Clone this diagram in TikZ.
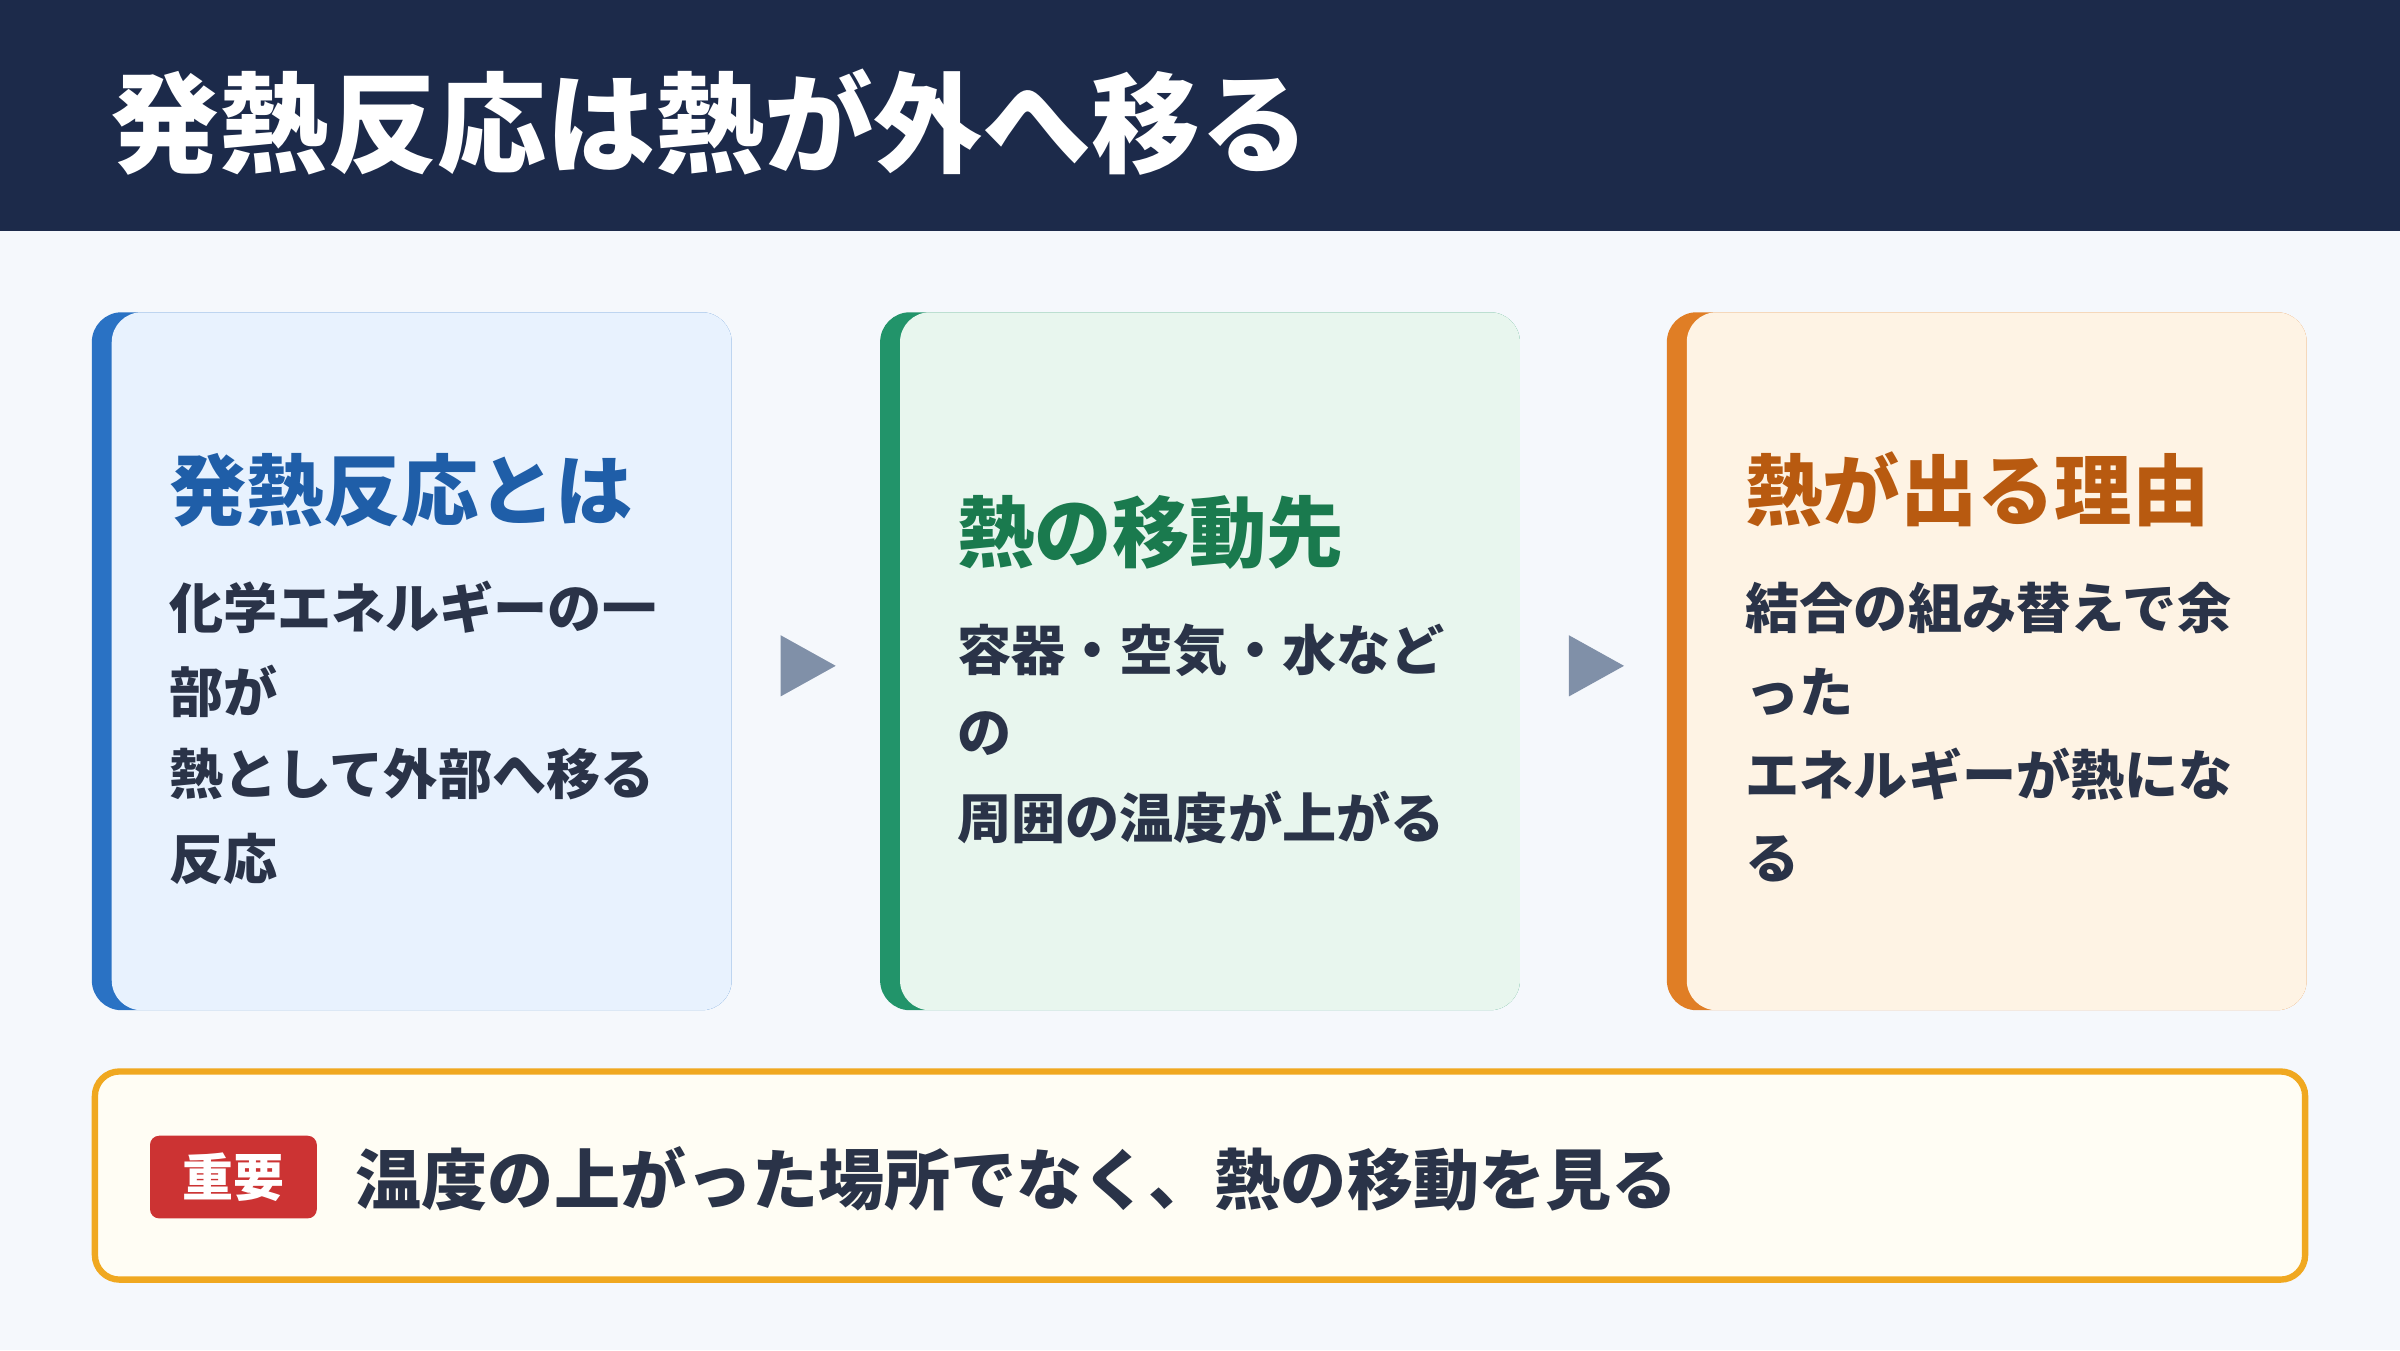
\documentclass[tikz,border=0pt]{standalone}
\usepackage{fontspec}
\newfontfamily\cjk{Noto Sans CJK JP}
\usetikzlibrary{positioning}
\definecolor{navy}{HTML}{1C2A4A}
\definecolor{pagebg}{HTML}{F5F8FC}
\definecolor{ink}{HTML}{2A3348}
\definecolor{blueBar}{HTML}{2A72C4}
\definecolor{blueFill}{HTML}{E8F2FE}
\definecolor{blueHead}{HTML}{1F5EA8}
\definecolor{greenBar}{HTML}{22946A}
\definecolor{greenFill}{HTML}{E8F6EE}
\definecolor{greenHead}{HTML}{1A7A4E}
\definecolor{orangeBar}{HTML}{E07E25}
\definecolor{orangeFill}{HTML}{FEF3E4}
\definecolor{orangeHead}{HTML}{B85A10}
\definecolor{arrowGray}{HTML}{8090A8}
\definecolor{noteFill}{HTML}{FFFDF4}
\definecolor{noteLine}{HTML}{F0A820}
\definecolor{badgeRed}{HTML}{CC3333}
\tikzset{
  head/.style={anchor=west,inner sep=0pt,font=\cjk\bfseries\fontsize{22}{26}\selectfont},
  body/.style={anchor=west,inner sep=0pt,text=ink,font=\cjk\bfseries\fontsize{15.4}{18}\selectfont},
  card/.style={rounded corners=8.5pt},
}
\begin{document}
\begin{tikzpicture}[x=0.0153061cm,y=-0.0153061cm]
\fill [pagebg] (0,0) rectangle (1568,882);
\fill [navy] (0,0) rectangle (1568,151);
\node [anchor=west,inner sep=0pt,text=white,font=\cjk\bfseries\fontsize{31}{36}\selectfont] (title) at (72,80) {発熱反応は熱が外へ移る};
% cards
\fill [blueBar,card] (60,204) rectangle (478,660);
\fill [blueFill,card] (73,204) rectangle (478,660);
\fill [greenBar,card] (575,204) rectangle (993,660);
\fill [greenFill,card] (588,204) rectangle (993,660);
\fill [orangeBar,card] (1089,204) rectangle (1507,660);
\fill [orangeFill,card] (1102,204) rectangle (1507,660);
% card 1
\node [head,text=blueHead] (h1) at (110,320) {発熱反応とは};
\node [body] (b1a) at (110,397) {化学エネルギーの一};
\node [body] (b1b) at (110,452) {部が};
\node [body] (b1c) at (110,506) {熱として外部へ移る};
\node [body] (b1d) at (110,561) {反応};
% card 2
\node [head,text=greenHead] (h2) at (625,348) {熱の移動先};
\node [body] (b2a) at (625,425) {容器・空気・水など};
\node [body] (b2b) at (625,479) {の};
\node [body] (b2c) at (625,534) {周囲の温度が上がる};
% card 3
\node [head,text=orangeHead] (h3) at (1140,320) {熱が出る理由};
\node [body] (b3a) at (1140,397) {結合の組み替えで余};
\node [body] (b3b) at (1140,452) {った};
\node [body] (b3c) at (1140,506) {エネルギーが熱にな};
\node [body] (b3d) at (1140,561) {る};
% arrows
\fill [arrowGray] (510,415) -- (546,435) -- (510,455) -- cycle;
\fill [arrowGray] (1025,415) -- (1061,435) -- (1025,455) -- cycle;
% note
\draw [noteLine,fill=noteFill,line width=1.8pt,rounded corners=7pt] (62,700) rectangle (1506,836);
\fill [badgeRed,rounded corners=2.6pt] (98,742) rectangle (207,796);
\node [inner sep=0pt,text=white,font=\cjk\bfseries\fontsize{14.5}{17}\selectfont] (badge) at (152.5,769) {重要};
\node [anchor=west,inner sep=0pt,text=ink,font=\cjk\bfseries\fontsize{18.8}{22}\selectfont] (note) at (232,770) {温度の上がった場所でなく、熱の移動を見る};
\end{tikzpicture}
\end{document}
